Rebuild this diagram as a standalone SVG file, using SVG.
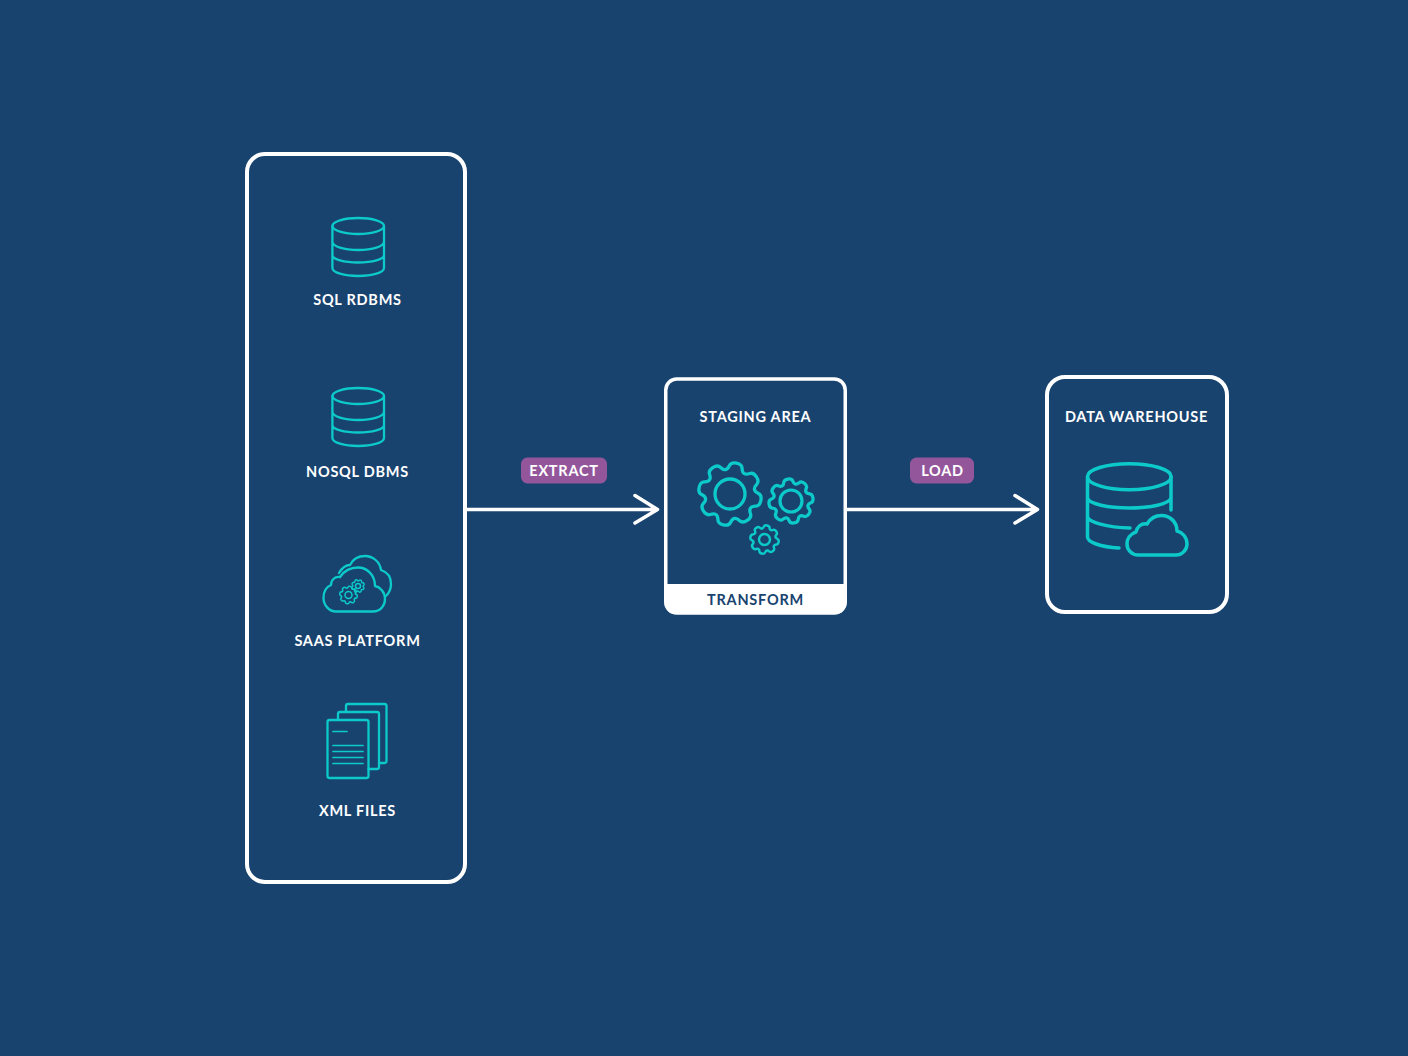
<svg xmlns="http://www.w3.org/2000/svg" width="1408" height="1056" viewBox="0 0 1408 1056">
<style>
text{font-family:"Lato","Noto Sans","Liberation Sans",sans-serif;font-weight:700;font-size:14.5px;letter-spacing:.75px;fill:#fff;text-anchor:middle}
.box{fill:none;stroke:#fff;stroke-width:4}
.ic{fill:none;stroke:#0ccaca;stroke-width:2.300;stroke-linecap:round;stroke-linejoin:round}
.conn{fill:none;stroke:#fff;stroke-width:3.500;stroke-linecap:round;stroke-linejoin:round}
.pill{fill:#93569b}
</style>
<defs>
<path id="gear" d="M86.6,-20.1Q98.5,-17.4 98.5,0Q98.5,17.4 86.6,20.1Q74.6,22.8 71.8,29.7Q68.9,36.6 75.4,47Q81.9,57.4 69.7,69.7Q57.4,81.9 47,75.4Q36.6,68.9 29.7,71.8Q22.8,74.6 20.1,86.6Q17.4,98.5 0,98.5Q-17.4,98.5 -20.1,86.6Q-22.8,74.6 -29.7,71.8Q-36.6,68.9 -47,75.4Q-57.4,81.9 -69.7,69.7Q-81.9,57.4 -75.4,47Q-68.9,36.6 -71.8,29.7Q-74.6,22.8 -86.6,20.1Q-98.5,17.4 -98.5,0Q-98.5,-17.4 -86.6,-20.1Q-74.6,-22.8 -71.8,-29.7Q-68.9,-36.6 -75.4,-47Q-81.9,-57.4 -69.7,-69.7Q-57.4,-81.9 -47,-75.4Q-36.6,-68.9 -29.7,-71.8Q-22.8,-74.6 -20.1,-86.6Q-17.4,-98.5 0,-98.5Q17.4,-98.5 20.1,-86.6Q22.8,-74.6 29.7,-71.8Q36.6,-68.9 47,-75.4Q57.4,-81.9 69.7,-69.7Q81.9,-57.4 75.4,-47Q68.9,-36.6 71.8,-29.7Q74.6,-22.8 86.6,-20.1Z"/>
<g id="db"><ellipse cx="358.2" cy="226" rx="25.8" ry="8"/><path d="M332.4,226V268C332.4,272.5 344,276 358.2,276C372.4,276 384,272.5 384,268V226M332.4,241.500C332.4,246.500 344,250 358.2,250C372.4,250 384,246.500 384,241.500M332.4,255C332.4,259.500 344,262.500 358.2,262.500C372.4,262.500 384,259.500 384,255"/></g>
</defs>
<rect width="1408" height="1056" fill="#19436f"/>
<g id="connectors">
<path class="conn" d="M466,509.500H657.500M635,495.500L657.500,509.500L635,523"/>
<path class="conn" d="M846,509.500H1037.500M1015,495.500L1037.500,509.500L1015,523"/>
</g>
<g id="sources"><rect class="box" x="247" y="154" width="218" height="728" rx="18"/></g>
<g id="sql-rdbms"><use href="#db" class="ic"/><text x="357.500" y="304.500">SQL RDBMS</text></g>
<g id="nosql-dbms"><use href="#db" class="ic" y="170"/><text x="357.500" y="476.500">NOSQL DBMS</text></g>
<g id="saas-platform">
<path class="ic" d="M336,611.500H373C381,611.500 385,605 385,599C385,592 380,587 375,586C375,575 367,567.500 358,567.500C350,567.500 344,571 340,577C335,576 331,580 331,585C326,587 323.500,592 323.500,598C323.500,605 329,611.500 336,611.500Z"/>
<path class="ic" d="M339,573C342,568 346,565 350,565C353,559 359,556 365,556C373,556 380,562 381,570C387,572 391,577 391,584C391,590 388,594 386,596"/>
<use href="#gear" class="ic" transform="translate(348.500,595) scale(.09) rotate(10)" style="stroke-width:17"/>
<circle class="ic" cx="348.500" cy="595" r="3.500" style="stroke-width:1.500"/>
<use href="#gear" class="ic" transform="translate(358,586) scale(.065) rotate(25)" style="stroke-width:22"/>
<circle class="ic" cx="358" cy="586" r="2.500" style="stroke-width:1.500"/>
<text x="357.500" y="645.500">SAAS PLATFORM</text></g>
<g id="xml-files">
<path class="ic" d="M346,711V706Q346,704 348,704H384.500Q386.500,704 386.500,706V761Q386.500,763 384.500,763H379.500"/>
<path class="ic" d="M338,720V714Q338,712 340,712H377Q379,712 379,714V767Q379,769 377,769H368.500"/>
<rect class="ic" x="327.500" y="720" width="41" height="58" rx="2"/>
<path class="ic" style="stroke-width:1.700" d="M333,731.500H347M333,745.500H363M333,751.500H363M333,757.500H363M333,763.500H363"/>
<text x="357.500" y="815.500">XML FILES</text></g>
<g id="staging-area">
<path d="M666,584H845.500V603Q845.500,614 834.500,614H676Q665.500,614 665.500,603Z" fill="#fff"/>
<rect class="box" style="stroke-width:3.500" x="665.750" y="379" width="179.500" height="234" rx="11"/>
<text x="755.500" y="421.500">STAGING AREA</text>
<text x="755.500" y="604.500" style="fill:#19436f">TRANSFORM</text>
<use href="#gear" class="ic" transform="translate(730,494) scale(.32) rotate(12)" style="stroke-width:10.300"/>
<circle class="ic" style="stroke-width:3.300" cx="730" cy="494" r="15"/>
<use href="#gear" class="ic" transform="translate(791,501) scale(.225) rotate(-8)" style="stroke-width:14.500"/>
<circle class="ic" style="stroke-width:3.200" cx="791" cy="501" r="11"/>
<use href="#gear" class="ic" transform="translate(764.500,539.500) scale(.145) rotate(10)" style="stroke-width:17"/>
<circle class="ic" style="stroke-width:2.400" cx="764.500" cy="539.500" r="5.500"/>
</g>
<g id="data-warehouse">
<rect class="box" x="1047" y="377" width="180" height="235" rx="18"/>
<text x="1136.500" y="421.500">DATA WAREHOUSE</text>
<g class="ic" style="stroke-width:3.500">
<ellipse cx="1129.300" cy="476.700" rx="41.800" ry="13"/>
<path d="M1087.500,476.700V537C1087.500,542 1100,547 1119,548M1171,476.700V510M1087.500,498C1089,504 1108,508 1129.300,508C1151,508 1169,504 1171,498M1087.500,517C1089,522 1106,527.500 1130,528"/>
<path d="M1138,555H1176C1183,555 1187,549 1187,544C1187,537 1182,532 1177,531C1177,522 1170,515.500 1161.500,515.500C1155,515.500 1150,519 1147,524C1141,523 1137,527 1136,532C1130,534 1127,539 1127,544C1127,550 1132,555 1138,555Z"/>
</g></g>
<g id="extract-label"><rect class="pill" x="521" y="457.500" width="86" height="26" rx="6.500"/><text x="564" y="475.500">EXTRACT</text></g>
<g id="load-label"><rect class="pill" x="910" y="457.500" width="64" height="26" rx="6.500"/><text x="942.500" y="475.500">LOAD</text></g>
</svg>
